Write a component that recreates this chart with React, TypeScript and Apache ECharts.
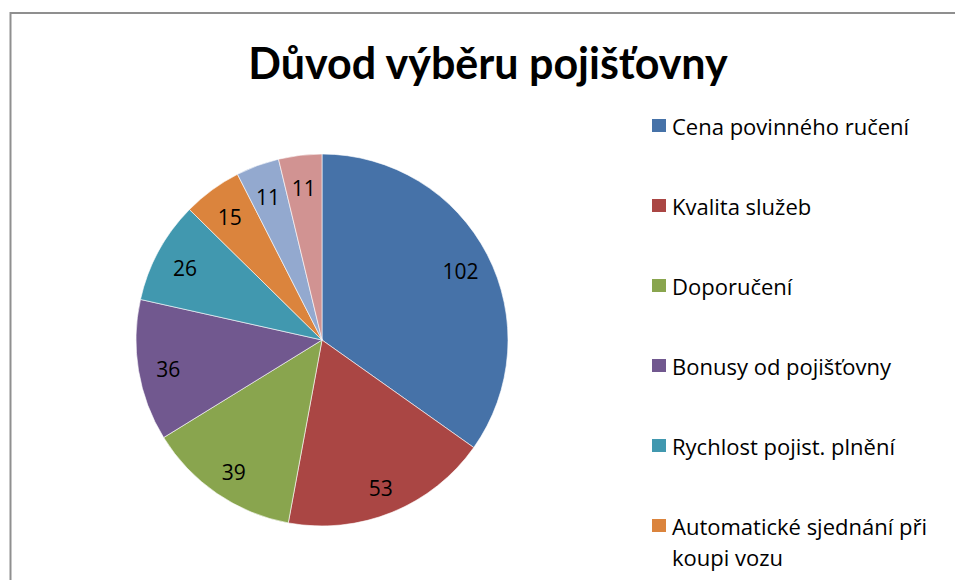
import React, { useEffect, useRef } from "react";
import * as echarts from "echarts";

const titleText = "Důvod výběru pojišťovny";
const categories = [
  "Cena povinného ručení",
  "Kvalita služeb",
  "Doporučení",
  "Bonusy od pojišťovny",
  "Rychlost pojist. plnění",
  "Automatické sjednání při koupi vozu",
  "Jiné důvody",
  "Ostatní",
];
const values = [102, 53, 39, 36, 26, 15, 11, 11];
const colors = ["#4672A8", "#AA4644", "#89A54E", "#71588F", "#4198AF", "#DB843D", "#93A9CF", "#D19392"];

const TITLE_FONT = "Lato";
const FONT = "Open Sans";

export default function App() {
  const ref = useRef<HTMLDivElement>(null);
  useEffect(() => {
    if (!ref.current) return;
    const chart = echarts.init(ref.current, null, { renderer: "svg" });
    const data = categories.map((name, i) => ({ name, value: values[i] }));
    const legendText = {
      fontFamily: FONT,
      fontSize: 22,
      color: "#000",
      lineHeight: 27,
    };
    chart.setOption({
      animation: false,
      backgroundColor: "#fff",
      color: colors,
      title: {
        text: titleText,
        left: 488,
        textAlign: "center",
        top: 37,
        padding: 0,
        textStyle: { fontFamily: TITLE_FONT, fontSize: 43, fontWeight: "bold", color: "#000", lineHeight: 50 },
      },
      legend: [
        {
          orient: "vertical",
          left: 650,
          top: 112,
          padding: 0,
          itemWidth: 16,
          itemHeight: 15,
          itemGap: 53,
          icon: "rect",
          selectedMode: false,
          textStyle: legendText,
          data: categories.slice(0, 5),
        },
        {
          orient: "vertical",
          left: 650,
          top: 479,
          padding: 0,
          itemWidth: 16,
          itemHeight: 15,
          itemGap: 53,
          icon: "rect",
          selectedMode: false,
          textStyle: { ...legendText, lineHeight: 31 },
          // wrap the long label after "při", icon aligned with its first line
          formatter: (name: string) => "\n" + name.replace(/ (\S+ \S+)$/, "\n$1"),
          data: [categories[5]],
        },
      ],
      graphic: [
        {
          type: "rect",
          z: -1,
          shape: { x: 10.5, y: 13, width: 1200, height: 900 },
          style: { fill: "none", stroke: "#8f8f8f", lineWidth: 2 },
          silent: true,
        },
      ],
      series: [
        {
          type: "pie",
          center: [322, 340],
          radius: 186,
          startAngle: 90,
          clockwise: true,
          avoidLabelOverlap: false,
          silent: true,
          label: { show: false },
          labelLine: { show: false },
          itemStyle: { borderColor: "#ffffff", borderWidth: 0.6 },
          data,
        },
        {
          type: "pie",
          center: [322, 340],
          radius: [120, 186],
          startAngle: 90,
          clockwise: true,
          avoidLabelOverlap: false,
          silent: true,
          legendHoverLink: false,
          itemStyle: { color: "rgba(0,0,0,0)" },
          label: {
            show: true,
            position: "inside",
            formatter: "{c}",
            fontFamily: FONT,
            fontSize: 21,
            color: "#000",
            offset: [0, 3],
          },
          labelLine: { show: false },
          data,
        },
      ],
    });
    return () => chart.dispose();
  }, []);
  return (
    <div
      ref={ref}
      style={{ position: "fixed", left: 0, top: 0, width: 955, height: 580 }}
    />
  );
}
